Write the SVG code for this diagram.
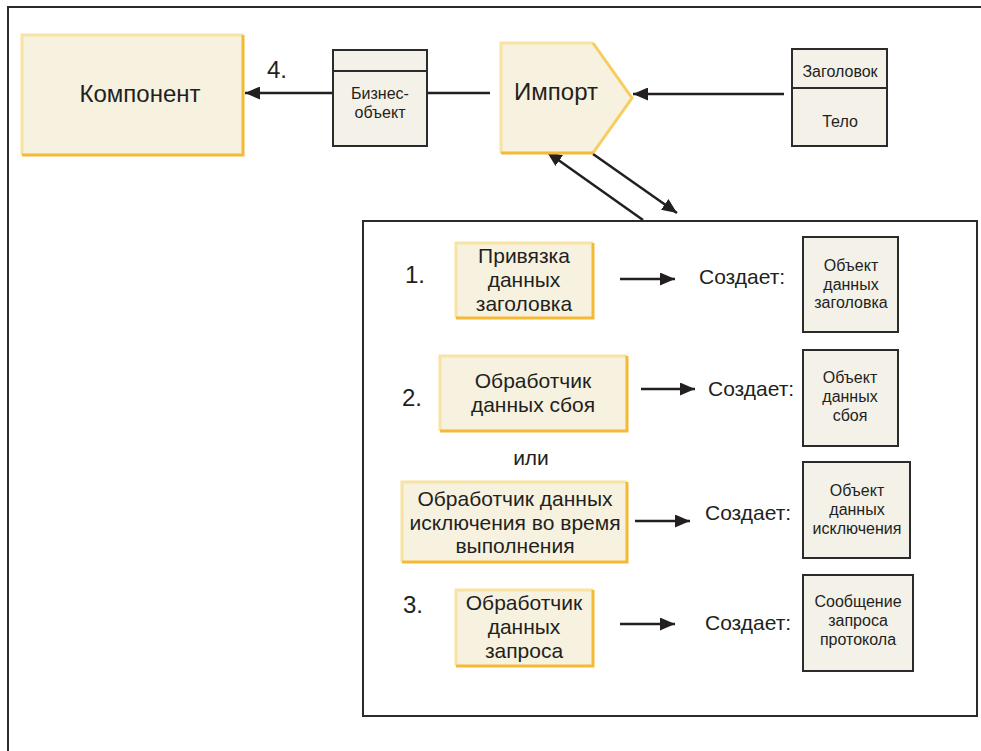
<svg xmlns="http://www.w3.org/2000/svg" width="981" height="751" viewBox="0 0 981 751">
  <style>
    text { font-family: "Liberation Sans", Arial, sans-serif; fill: #231f20; }
    .big { font-size: 24px; }
    .num { font-size: 24px; }
    .mid { font-size: 21px; }
    .small { font-size: 16px; }
    .frame { fill: none; stroke: #2b2b2b; stroke-width: 2; }
    .obj { fill: #f3f1e8; stroke: #2b2b2b; stroke-width: 2; }
    .ybox { fill: #f7f1df; }
    .ylight { stroke: #f8e3a4; stroke-width: 3; fill: none; }
    .ymid { stroke: #f6cd5e; stroke-width: 3; fill: none; }
    .ydark { stroke: #f4b935; stroke-width: 3; fill: none; }
    .conn { stroke: #231f20; stroke-width: 2.5; fill: none; }
  </style>
  <defs>
    <marker id="arrow" markerUnits="userSpaceOnUse" markerWidth="15" markerHeight="13" refX="15" refY="6.5" orient="auto">
      <path d="M0,0 L15,6.5 L0,13 z" fill="#231f20"/>
    </marker>
  </defs>

  <!-- outer frame (runs off the right and bottom edges) -->
  <path class="frame" d="M8,760 L8,7 L990,7"/>

  <!-- connectors -->
  <g id="connectors">
    <line class="conn" x1="333" y1="93" x2="245" y2="93" marker-end="url(#arrow)"/>
    <line class="conn" x1="427" y1="93" x2="490" y2="93"/>
    <line class="conn" x1="784" y1="94" x2="633" y2="94" marker-end="url(#arrow)"/>
    <line class="conn" x1="643" y1="220" x2="547" y2="152" marker-end="url(#arrow)"/>
    <line class="conn" x1="593" y1="154" x2="677" y2="213" marker-end="url(#arrow)"/>
    <line class="conn" x1="620" y1="279" x2="675" y2="279" marker-end="url(#arrow)"/>
    <line class="conn" x1="641" y1="389" x2="695" y2="389" marker-end="url(#arrow)"/>
    <line class="conn" x1="635" y1="521" x2="690" y2="521" marker-end="url(#arrow)"/>
    <line class="conn" x1="620" y1="624" x2="675" y2="624" marker-end="url(#arrow)"/>
  </g>

  <!-- Component -->
  <g id="component">
    <rect class="ybox" x="22" y="35" width="221" height="120"/>
    <path class="ylight" d="M22,155 L22,35 L243,35"/>
    <path class="ydark" d="M22,155 L243,155 L243,35"/>
    <text class="big" x="140" y="102" text-anchor="middle">Компонент</text>
  </g>
  <text class="big" x="267" y="78">4.</text>

  <!-- Business object -->
  <g id="business-object">
    <rect class="obj" x="333" y="50" width="94" height="96"/>
    <line class="frame" x1="333" y1="71" x2="427" y2="71"/>
    <text class="small" x="380" y="99" text-anchor="middle">Бизнес-</text>
    <text class="small" x="380" y="118" text-anchor="middle">объект</text>
  </g>

  <!-- Import -->
  <g id="import">
    <polygon class="ybox" points="501,43 593,43 632,98 593,153 501,153"/>
    <path class="ylight" d="M501,153 L501,43 L593,43"/>
    <path class="ymid" d="M593,43 L632,98 L593,153"/>
    <path class="ydark" d="M501,153 L593,153"/>
    <text class="big" x="556" y="100" text-anchor="middle">Импорт</text>
  </g>

  <!-- Message -->
  <g id="message">
    <rect class="obj" x="792" y="49" width="95" height="97"/>
    <line class="frame" x1="792" y1="88" x2="887" y2="88"/>
    <text class="small" x="840" y="77" text-anchor="middle">Заголовок</text>
    <text class="small" x="840" y="127" text-anchor="middle">Тело</text>
  </g>

  <!-- handler panel -->
  <rect id="handler-panel" class="frame" x="363" y="221" width="614" height="495"/>

  <!-- 1. header data binding -->
  <text class="num" x="405" y="283">1.</text>
  <g id="header-binding">
    <rect class="ybox" x="456" y="243" width="137" height="75"/>
    <path class="ylight" d="M456,318 L456,243 L593,243"/>
    <path class="ydark" d="M456,318 L593,318 L593,243"/>
    <text class="mid" x="524" y="263" text-anchor="middle">Привязка</text>
    <text class="mid" x="524" y="287" text-anchor="middle">данных</text>
    <text class="mid" x="524" y="311" text-anchor="middle">заголовка</text>
  </g>
  <text class="mid" x="699" y="284">Создает:</text>
  <g id="header-object">
    <rect class="obj" x="803" y="237" width="95" height="95"/>
    <text class="small" x="851" y="271" text-anchor="middle">Объект</text>
    <text class="small" x="851" y="290" text-anchor="middle">данных</text>
    <text class="small" x="851" y="308" text-anchor="middle">заголовка</text>
  </g>

  <!-- 2. fault data handler -->
  <text class="num" x="402" y="406">2.</text>
  <g id="fault-handler">
    <rect class="ybox" x="440" y="356" width="187" height="75"/>
    <path class="ylight" d="M440,431 L440,356 L627,356"/>
    <path class="ydark" d="M440,431 L627,431 L627,356"/>
    <text class="mid" x="533" y="388" text-anchor="middle">Обработчик</text>
    <text class="mid" x="533" y="412" text-anchor="middle">данных сбоя</text>
  </g>
  <text class="mid" x="708" y="396">Создает:</text>
  <g id="fault-object">
    <rect class="obj" x="803" y="350" width="95" height="96"/>
    <text class="small" x="850" y="383" text-anchor="middle">Объект</text>
    <text class="small" x="850" y="402" text-anchor="middle">данных</text>
    <text class="small" x="850" y="421" text-anchor="middle">сбоя</text>
  </g>

  <text class="mid" x="531" y="465" text-anchor="middle">или</text>

  <!-- runtime exception data handler -->
  <g id="exception-handler">
    <rect class="ybox" x="402" y="482" width="225" height="80"/>
    <path class="ylight" d="M402,562 L402,482 L627,482"/>
    <path class="ydark" d="M402,562 L627,562 L627,482"/>
    <text class="mid" x="515" y="506" text-anchor="middle">Обработчик данных</text>
    <text class="mid" x="515" y="530" text-anchor="middle">исключения во время</text>
    <text class="mid" x="515" y="553" text-anchor="middle">выполнения</text>
  </g>
  <text class="mid" x="705" y="520">Создает:</text>
  <g id="exception-object">
    <rect class="obj" x="803" y="462" width="107" height="96"/>
    <text class="small" x="857" y="496" text-anchor="middle">Объект</text>
    <text class="small" x="857" y="515" text-anchor="middle">данных</text>
    <text class="small" x="857" y="534" text-anchor="middle">исключения</text>
  </g>

  <!-- 3. request data handler -->
  <text class="num" x="403" y="613">3.</text>
  <g id="request-handler">
    <rect class="ybox" x="456" y="590" width="137" height="76"/>
    <path class="ylight" d="M456,666 L456,590 L593,590"/>
    <path class="ydark" d="M456,666 L593,666 L593,590"/>
    <text class="mid" x="524" y="610" text-anchor="middle">Обработчик</text>
    <text class="mid" x="524" y="634" text-anchor="middle">данных</text>
    <text class="mid" x="524" y="658" text-anchor="middle">запроса</text>
  </g>
  <text class="mid" x="705" y="630">Создает:</text>
  <g id="request-message">
    <rect class="obj" x="803" y="575" width="110" height="96"/>
    <text class="small" x="858" y="607" text-anchor="middle">Сообщение</text>
    <text class="small" x="858" y="626" text-anchor="middle">запроса</text>
    <text class="small" x="858" y="645" text-anchor="middle">протокола</text>
  </g>
</svg>
